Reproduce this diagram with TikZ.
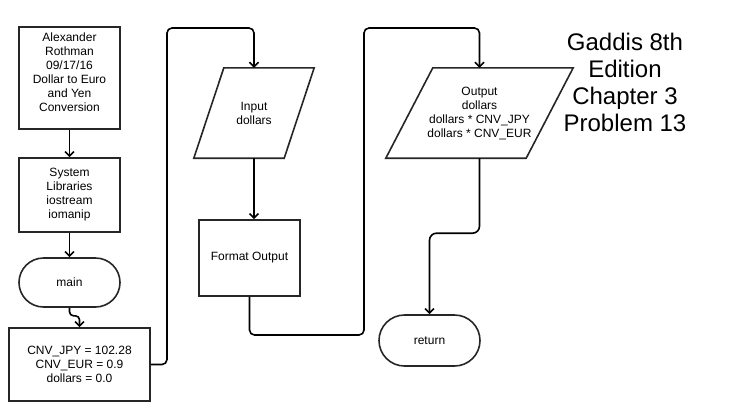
\documentclass[tikz,border=0pt]{standalone}
\usepackage{fontspec}
\setmainfont{Liberation Sans}
\usetikzlibrary{arrows.meta,shapes.misc}
\tikzset{
  shp/.style={draw=black!85, line width=1.6pt, inner sep=0pt, font=\fontsize{12}{14}\selectfont, align=center},
  boxn/.style={shp, rectangle},
  term/.style={shp, rounded rectangle},
  txt/.style={inner sep=0pt, font=\fontsize{12}{14}\selectfont, align=center},
  pbox/.style={inner sep=0pt, font=\fontsize{12}{14}\selectfont, align=center},
  conn/.style={draw=black, line width=1.6pt, rounded corners=5pt, -{Straight Barb[length=4.5pt,width=9pt,line width=1.6pt]}},
  title/.style={inner sep=0pt, font=\fontsize{24}{27}\selectfont, align=center}
}
\begin{document}
\begin{tikzpicture}[x=1pt,y=-1pt]
\useasboundingbox (0,0) rectangle (744,408);
% left column
\node[boxn, minimum width=101pt, minimum height=102pt] (auth) at (69.5,78) {};
\node[txt] (authtxt) at (69.5,72) {Alexander\\Rothman\\09/17/16\\Dollar to Euro\\and Yen\\Conversion};
\node[boxn, minimum width=101pt, minimum height=74pt] (lib) at (69.5,195) {System\\Libraries\\iostream\\iomanip};
\node[term, minimum width=101pt, minimum height=49pt] (main) at (69.5,282.5) {main};
\node[boxn, minimum width=141pt, minimum height=73pt] (cnv) at (79.5,364.5) {CNV\_JPY = 102.28\\CNV\_EUR = 0.9\\dollars = 0.0};
% input parallelogram
\node[pbox, minimum width=120pt, minimum height=90pt] (inp) at (254,113) {Input\\dollars};
\draw[line width=1.6pt, draw=black!85, line join=miter]
  ([xshift=30pt]inp.north west) -- (inp.north east) -- ([xshift=-30pt]inp.south east) -- (inp.south west) -- cycle;
\node[boxn, minimum width=101pt, minimum height=76pt] (fmt) at (249.5,258) {Format Output};
% output parallelogram
\node[pbox, minimum width=187pt, minimum height=90pt] (out) at (479.5,113) {Output\\dollars\\dollars * CNV\_JPY\\dollars * CNV\_EUR};
\draw[line width=1.6pt, draw=black!85, line join=miter]
  ([xshift=47pt]out.north west) -- (out.north east) -- ([xshift=-47pt]out.south east) -- (out.south west) -- cycle;
\node[term, minimum width=101pt, minimum height=51pt] (ret) at (429.5,340.5) {return};
% title
\node[title] (ttl) at (625,82) {Gaddis 8th\\Edition\\Chapter 3\\Problem 13};
% waypoints
\coordinate (w1) at (167,28);
\coordinate (w2) at (364,335);
\coordinate (w3) at (364,28);
% connectors
\draw[conn] (auth.south) -- (lib.north);
\draw[conn] (lib.south) -- (main.north);
\draw[conn, rounded corners=4pt] (main.south) -- ++(0,8) -| (cnv.north);
\draw[conn] (cnv.east) -| (w1) -| (inp.north);
\draw[conn] (inp.south) -- (inp.south |- fmt.north);
\draw[conn] (fmt.south) |- (w2) -- (w3) -| (out.north);
\draw[conn, rounded corners=7pt] (out.south) -- ++(0,75) -| (ret.north);
\end{tikzpicture}
\end{document}
